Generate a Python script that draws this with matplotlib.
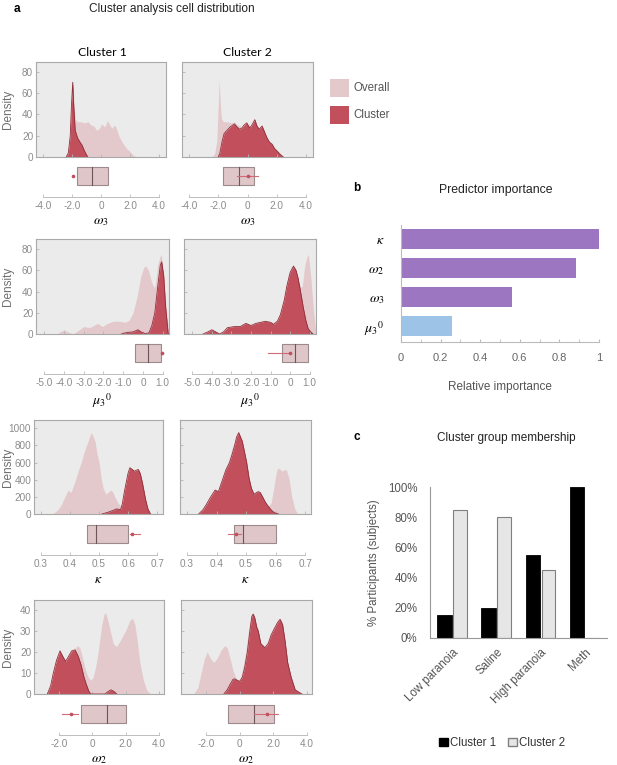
import matplotlib
matplotlib.use('Agg')
import matplotlib.pyplot as plt
from matplotlib.patches import Rectangle, Patch

plt.rcParams['font.family'] = ['Liberation Sans', 'DejaVu Sans']
plt.rcParams['mathtext.fontset'] = 'stix'

# ---------------- DATA ----------------
# Panel a, row 1: omega_3 densities
w3_x_overall = [-2.45, -2.25, -2.1, -2.0, -1.93, -1.86, -1.78, -1.65, -1.4, -1.1, -0.9, -0.7, -0.5, -0.3,
                -0.1, 0.05, 0.25, 0.45, 0.6, 0.75, 0.95, 1.1, 1.25, 1.5, 1.75, 2.0, 2.2, 2.4]
w3_overall = [0, 3, 15, 50, 72, 50, 36, 33, 33, 32, 33, 30, 29, 25, 27, 31, 28, 34, 30, 27, 30, 25, 19, 13,
              8, 5, 2, 0]
w3_x_c1 = [-2.4, -2.25, -2.12, -2.03, -1.95, -1.88, -1.78, -1.62, -1.45, -1.3, -1.15, -1.0, -0.9]
w3_c1 = [0, 4, 20, 50, 70, 48, 25, 18, 14, 11, 6, 2, 0]
w3_x_c2 = [-2.0, -1.9, -1.75, -1.6, -1.4, -1.2, -0.9, -0.7, -0.55, -0.4, -0.23, -0.05, 0.15, 0.3, 0.5,
           0.65, 0.8, 1.0, 1.15, 1.33, 1.5, 1.68, 1.85, 2.0, 2.2, 2.45]
w3_c2 = [0, 3, 14, 22, 25, 28, 31, 28, 26, 27, 30, 32, 27, 30, 35, 29, 26, 29, 24, 18, 14, 12, 8, 6, 3, 0]
w3_box = [-1.65, -0.6, 0.46]          # q1, median, q3 (overall)
w3_c1_err = [-1.96, -1.93, -1.90]     # low, mean, high (cluster 1)
w3_c2_err = [-0.74, 0.0, 0.71]        # low, mean, high (cluster 2)

# Panel a, row 2: mu_3^0 densities
mu_x_overall = [-4.35, -4.2, -4.0, -3.8, -3.55, -3.3, -3.0, -2.7, -2.5, -2.3, -2.05, -1.8, -1.5, -1.2, -0.9,
                -0.7, -0.5, -0.3, -0.1, 0.05, 0.15, 0.28, 0.42, 0.55, 0.62, 0.75, 0.85, 0.93, 1.05, 1.2, 1.32]
mu_overall = [0, 2, 4, 2, 0, 3, 7, 6, 8, 10, 7, 10, 12, 12, 11, 13, 20, 35, 55, 63, 64, 60, 50, 44, 45, 65,
              72, 75, 55, 20, 0]
mu_x_c1 = [-1.1, -0.8, -0.5, -0.25, -0.1, 0.1, 0.3, 0.45, 0.6, 0.75, 0.88, 0.95, 1.05, 1.15, 1.28]
mu_c1 = [0, 1.5, 2, 4, 2, 0.5, 1, 8, 20, 45, 65, 68, 55, 25, 0]
mu_x_c2 = [-4.45, -4.2, -4.0, -3.8, -3.6, -3.4, -3.2, -2.85, -2.55, -2.26, -2.0, -1.75, -1.5, -1.26, -1.0,
           -0.84, -0.65, -0.5, -0.3, -0.17, 0.0, 0.17, 0.3, 0.4, 0.55, 0.67, 0.8, 0.92, 1.05, 1.17]
mu_c2 = [0, 2, 4, 2, 0, 2, 6, 7, 7, 10, 8, 10, 11, 12, 11, 9, 12, 18, 32, 45, 58, 64, 60, 53, 38, 25, 13,
         5, 2, 0]
mu_box = [-0.42, 0.25, 0.9]
mu_c1_err = [0.97, 0.99, 1.01]
mu_c2_err = [-1.12, 0.0, 0.05]

# Panel a, row 3: kappa densities
ka_x_overall = [0.337, 0.35, 0.36, 0.37, 0.385, 0.394, 0.403, 0.415, 0.43, 0.44, 0.45, 0.459, 0.467, 0.474,
                0.48, 0.486, 0.493, 0.5, 0.507, 0.514, 0.523, 0.53, 0.54, 0.547, 0.554, 0.565, 0.574, 0.585,
                0.595, 0.602, 0.608, 0.615, 0.622, 0.63, 0.636, 0.645, 0.655, 0.665, 0.675]
ka_overall = [0, 25, 60, 110, 220, 280, 250, 360, 520, 620, 740, 820, 900, 950, 900, 850, 700, 600, 420,
              300, 230, 250, 280, 260, 200, 130, 90, 130, 330, 480, 540, 520, 500, 515, 520, 420, 200, 60, 0]
ka_x_c1 = [0.51, 0.53, 0.55, 0.56, 0.574, 0.58, 0.587, 0.594, 0.6, 0.606, 0.614, 0.621, 0.628, 0.635,
           0.642, 0.65, 0.66, 0.668, 0.677]
ka_c1 = [0, 20, 45, 60, 50, 120, 260, 380, 480, 540, 520, 500, 510, 520, 470, 350, 170, 60, 0]
ka_x_c2 = [0.339, 0.354, 0.365, 0.38, 0.395, 0.406, 0.418, 0.432, 0.444, 0.453, 0.461, 0.468, 0.475, 0.481,
           0.487, 0.495, 0.502, 0.51, 0.518, 0.527, 0.535, 0.541, 0.548, 0.556, 0.565, 0.573, 0.582, 0.59,
           0.6, 0.61]
ka_c2 = [0, 50, 110, 200, 280, 260, 380, 520, 600, 700, 800, 900, 950, 900, 850, 720, 600, 420, 300, 230,
         250, 260, 250, 200, 140, 100, 60, 30, 10, 0]
ka_box = [0.459, 0.489, 0.601]
ka_c1_err = [0.605, 0.615, 0.64]
ka_c2_err = [0.44, 0.467, 0.483]

# Panel a, row 4: omega_2 densities
w2_x_overall = [-2.75, -2.5, -2.3, -2.1, -1.94, -1.75, -1.55, -1.35, -1.1, -0.9, -0.75, -0.55, -0.4, -0.25,
                -0.1, 0.05, 0.2, 0.35, 0.55, 0.7, 0.8, 0.9, 1.08, 1.25, 1.45, 1.65, 1.85, 2.05, 2.25, 2.42,
                2.55, 2.7, 2.85, 3.05, 3.25, 3.5]
w2_overall = [0, 3, 10, 17, 20, 17, 15, 17, 21, 23, 22, 16, 11, 8, 6.5, 8, 13, 20, 32, 38, 38.5, 36, 30, 24,
              22.5, 25, 28, 31, 35, 36, 33, 25, 15, 7, 2, 0]
w2_x_c1 = [-2.7, -2.5, -2.34, -2.15, -1.94, -1.78, -1.6, -1.42, -1.24, -1.04, -0.85, -0.68, -0.5, -0.38,
           -0.22, -0.1, 0.76, 0.95, 1.12, 1.3, 1.46]
w2_c1 = [0, 4, 10, 16, 20.5, 18, 15.5, 18, 20.5, 21, 18, 14, 8, 5, 1.5, 0, 0, 1.2, 2, 1.2, 0]
w2_x_c2 = [-0.95, -0.75, -0.55, -0.4, -0.3, -0.15, 0.0, 0.15, 0.3, 0.45, 0.6, 0.72, 0.8, 0.9, 1.0, 1.1,
           1.25, 1.5, 1.7, 1.86, 2.05, 2.25, 2.4, 2.55, 2.7, 2.85, 3.06, 3.3, 3.7]
w2_c2 = [0, 2, 5, 7, 7.2, 6.5, 6, 8, 13, 20, 30, 37, 38, 36, 32, 30, 24, 22, 24, 28, 31, 34, 35.5, 33, 25,
         15, 8, 2, 0]
w2_box = [-0.7, 0.86, 2.02]
w2_c1_err = [-1.84, -1.3, -0.84]
w2_c2_err = [0.84, 1.6, 2.3]

# Panel b: predictor importance
pred_labels = [r'$\kappa$', r'$\omega_2$', r'$\omega_3$', r'$\mu_3{}^0$']
pred_values = [1.0, 0.883, 0.562, 0.26]

# Panel c: cluster group membership
groups = ['Low paranoia', 'Saline', 'High paranoia', 'Meth']
cluster1_pct = [0.15, 0.20, 0.55, 1.00]
cluster2_pct = [0.85, 0.80, 0.45, 0.00]

# ---------------- STYLE ----------------
W, H = 617, 765
fig = plt.figure(figsize=(W / 100, H / 100), dpi=100)

PINK = '#E3C9CC'
RED = '#C14F5C'
DRED = '#8E2F3A'
BG = '#EBEBEB'
BOXF = '#DEC6C9'
GRAYTXT = '#8C8C8C'


def px_axes(x0, y0, x1, y1):
    return fig.add_axes([x0 / W, 1 - y1 / H, (x1 - x0) / W, (y1 - y0) / H])


overlay = fig.add_axes([0, 0, 1, 1])
overlay.set_xlim(0, W)
overlay.set_ylim(H, 0)
overlay.axis('off')

rows = [
    dict(ox=w3_x_overall, oy=w3_overall, c1x=w3_x_c1, c1y=w3_c1, c2x=w3_x_c2, c2y=w3_c2,
         box=w3_box, e1=w3_c1_err, e2=w3_c2_err, xlim=(-4.48, 4.48), bounds=(-4, 4),
         xt=[-4, -2, 0, 2, 4], xtl=['-4.0', '-2.0', '0', '2.0', '4.0'], ymax=89,
         yt=[0, 20, 40, 60, 80], top=62, bot=157, p1=(36, 166), p2=(182, 313), line=197,
         xlabel=r'$\omega_3$'),
    dict(ox=mu_x_overall, oy=mu_overall, c1x=mu_x_c1, c1y=mu_c1, c2x=mu_x_c2, c2y=mu_c2,
         box=mu_box, e1=mu_c1_err, e2=mu_c2_err, xlim=(-5.42, 1.32), bounds=(-5, 1),
         xt=[-5, -4, -3, -2, -1, 0, 1], xtl=['-5.0', '-4.0', '-3.0', '-2.0', '-1.0', '0', '1.0'], ymax=89.5,
         yt=[0, 20, 40, 60, 80], top=239, bot=334, p1=(36, 169), p2=(184, 316), line=374,
         xlabel=r'$\mu_3{}^0$'),
    dict(ox=ka_x_overall, oy=ka_overall, c1x=ka_x_c1, c1y=ka_c1, c2x=ka_x_c2, c2y=ka_c2,
         box=ka_box, e1=ka_c1_err, e2=ka_c2_err, xlim=(0.276, 0.72), bounds=(0.3, 0.7),
         xt=[0.3, 0.4, 0.5, 0.6, 0.7], xtl=['0.3', '0.4', '0.5', '0.6', '0.7'], ymax=1097,
         yt=[0, 200, 400, 600, 800, 1000], top=420, bot=514, p1=(34, 163), p2=(180, 311), line=555,
         xlabel=r'$\kappa$'),
    dict(ox=w2_x_overall, oy=w2_overall, c1x=w2_x_c1, c1y=w2_c1, c2x=w2_x_c2, c2y=w2_c2,
         box=w2_box, e1=w2_c1_err, e2=w2_c2_err, xlim=(-3.5, 4.3), bounds=(-2, 4),
         xt=[-2, 0, 2, 4], xtl=['-2.0', '0', '2.0', '4.0'], ymax=44.7,
         yt=[0, 10, 20, 30, 40], top=600, bot=694, p1=(34, 164), p2=(181, 312), line=735,
         xlabel=r'$\omega_2$'),
]

for r in rows:
    for col, (x0, x1) in enumerate([r['p1'], r['p2']]):
        # density panel
        ax = px_axes(x0, r['top'], x1, r['bot'])
        ax.set_facecolor(BG)
        for s in ax.spines.values():
            s.set_color('#A9A9A9')
            s.set_linewidth(0.8)
        ax.fill_between(r['ox'], r['oy'], color=PINK, lw=0)
        cx, cy = (r['c1x'], r['c1y']) if col == 0 else (r['c2x'], r['c2y'])
        ax.fill_between(cx, cy, color=RED, lw=0)
        ax.plot(cx, cy, color=DRED, lw=0.6)
        ax.set_xlim(*r['xlim'])
        ax.set_ylim(0, r['ymax'])
        ax.set_xticks(r['xt'])
        ax.set_xticklabels([])
        ax.set_yticks(r['yt'])
        ax.tick_params(direction='in', length=2, color='#B5B5B5', width=0.6,
                       labelsize=7.2, labelcolor=GRAYTXT, pad=2)
        if col == 0:
            ax.set_yticklabels([str(v) for v in r['yt']])
            overlay.text(8, (r['top'] + r['bot']) / 2, 'Density', rotation=90, fontsize=8.5,
                         color='#6E6E6E', ha='center', va='center')
        else:
            ax.set_yticklabels([])

        # box + axis line
        bx = px_axes(x0, r['line'] - 36, x1, r['line'])
        bx.set_xlim(*r['xlim'])
        bx.set_ylim(0, 36)
        bx.patch.set_alpha(0)
        for side in ['top', 'left', 'right']:
            bx.spines[side].set_visible(False)
        bx.spines['bottom'].set_bounds(*r['bounds'])
        bx.spines['bottom'].set_color('#BDBDBD')
        bx.spines['bottom'].set_linewidth(0.7)
        bx.set_yticks([])
        bx.set_xticks(r['xt'])
        bx.set_xticklabels(r['xtl'])
        bx.tick_params(axis='x', direction='in', length=2, color='#BDBDBD', width=0.6,
                       labelsize=7.2, labelcolor=GRAYTXT, pad=3)
        q1, med, q3 = r['box']
        bx.add_patch(Rectangle((q1, 12), q3 - q1, 18, facecolor=BOXF, edgecolor='#9C8A8D', lw=0.8))
        bx.plot([med, med], [12, 30], color='#6E5558', lw=0.8)
        lo, mean, hi = r['e1'] if col == 0 else r['e2']
        bx.plot([lo, hi], [21, 21], color='#D26A77', lw=0.8, zorder=5)
        bx.plot([mean], [21], 'o', ms=1.6, color=RED, zorder=6)
        overlay.text((x0 + x1) / 2, r['line'] + 17, r['xlabel'], fontsize=10, ha='center', va='top')

# Panel a headers and legend
overlay.text(14, 9, 'a', fontsize=8.5, fontweight='bold', ha='left', va='center')
overlay.text(172, 9, 'Cluster analysis cell distribution', fontsize=8.6, ha='center', va='center',
             color='#222222')
overlay.text(102, 52, 'Cluster 1', fontsize=8.8, ha='center', va='center', family=['Lato', 'DejaVu Sans'])
overlay.text(247, 52, 'Cluster 2', fontsize=8.8, ha='center', va='center', family=['Lato', 'DejaVu Sans'])
overlay.add_patch(Rectangle((330, 79), 19, 18, facecolor=PINK, edgecolor='none'))
overlay.add_patch(Rectangle((330, 106), 19, 18, facecolor=RED, edgecolor='none'))
overlay.text(353, 88, 'Overall', fontsize=8.3, ha='left', va='center', color='#555555')
overlay.text(353, 115, 'Cluster', fontsize=8.3, ha='left', va='center', color='#555555')

# ---------------- Panel b ----------------
axb = px_axes(401, 225, 599, 342)
ypos = list(range(len(pred_values)))
bar_colors = ['#9C76C1', '#9C76C1', '#9C76C1', '#9DC3E6']
axb.barh(ypos, pred_values, height=0.68, color=bar_colors)
axb.set_ylim(3.56, -0.475)
axb.set_xlim(0, 1.0)
axb.set_yticks(ypos)
axb.set_yticklabels(pred_labels, fontsize=10)
axb.set_xticks([0, 0.2, 0.4, 0.6, 0.8, 1.0])
axb.set_xticklabels(['0', '0.2', '0.4', '0.6', '0.8', '1'])
axb.set_xticks([0.1, 0.3, 0.5, 0.7, 0.9], minor=True)
for side in ['top', 'right']:
    axb.spines[side].set_visible(False)
for side in ['left', 'bottom']:
    axb.spines[side].set_color('#BBBBBB')
    axb.spines[side].set_linewidth(0.8)
axb.tick_params(axis='y', length=0, pad=12)
axb.tick_params(axis='x', which='both', direction='in', length=2.5, color='#BBBBBB',
                labelsize=8, labelcolor='#666666', pad=8)
axb.set_xlabel('Relative importance', fontsize=8.5, color='#555555', labelpad=13)
overlay.text(353, 188, 'b', fontsize=8.5, fontweight='bold', ha='left', va='center')
overlay.text(496, 190, 'Predictor importance', fontsize=8.8, ha='center', va='center', color='#222222')

# ---------------- Panel c ----------------
axc = px_axes(430, 487, 607, 638)
xs = list(range(len(groups)))
axc.bar([x - 0.175 for x in xs], cluster1_pct, width=0.33, color='black', edgecolor='black', lw=0.6,
        label='Cluster 1')
axc.bar([x + 0.175 for x in xs], cluster2_pct, width=0.31, color='#E6E6E6', edgecolor='#808080',
        lw=0.8, label='Cluster 2')
axc.set_xlim(-0.5, 3.5)
axc.set_ylim(0, 1.0)
axc.set_yticks([0, 0.2, 0.4, 0.6, 0.8, 1.0])
axc.set_yticklabels(['0%', '20%', '40%', '60%', '80%', '100%'])
axc.set_xticks(xs)
axc.set_xticklabels(groups, rotation=45, ha='right', rotation_mode='anchor')
for side in ['top', 'right']:
    axc.spines[side].set_visible(False)
for side in ['left', 'bottom']:
    axc.spines[side].set_color('#999999')
    axc.spines[side].set_linewidth(0.8)
axc.tick_params(axis='both', length=0, labelsize=8.3, labelcolor='#555555')
axc.tick_params(axis='y', pad=9)
axc.tick_params(axis='x', pad=6)
axc.set_ylabel('% Participants (subjects)', fontsize=8.3, color='#555555', labelpad=6)
overlay.text(353, 437, 'c', fontsize=8.5, fontweight='bold', ha='left', va='center')
overlay.text(506, 438, 'Cluster group membership', fontsize=8.5, ha='center', va='center', color='#222222')
fig.legend(handles=[Patch(facecolor='black', edgecolor='black', label='Cluster 1'),
                    Patch(facecolor='#E6E6E6', edgecolor='#808080', label='Cluster 2')],
           loc='center', bbox_to_anchor=(502 / W, 1 - 743 / H), ncol=2, frameon=False,
           fontsize=8.3, handlelength=0.8, handleheight=0.8, handletextpad=0.2, columnspacing=1.0,
           labelcolor='#333333')

fig.savefig('out.png', dpi=100)
